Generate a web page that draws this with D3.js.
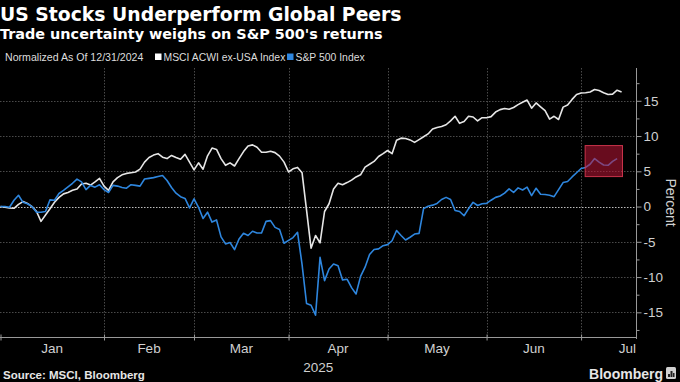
<!DOCTYPE html>
<html><head><meta charset="utf-8">
<script src="https://cdn.jsdelivr.net/npm/d3@7"></script>
<style>
html,body{margin:0;padding:0;background:#000;}
svg{display:block;}
</style></head><body>
<svg id="chart" width="680" height="382"></svg>
<script>
// ---- data (index = weekday since 12/31/2024) ----
const msciAcwiExUsa = [0,-0.1,-0.2,-0.25,0.3,0.7,0.45,0,-0.7,-2.1,-1.2,-0.3,0.6,1.3,1.8,2.0,2.3,2.5,3.2,3.3,
3.05,3.5,4.0,2.9,2.3,3.5,4.1,4.5,4.7,4.8,4.9,5.3,6.3,6.95,7.3,7.5,7.0,6.8,7.25,6.95,
6.7,7.4,6.3,5.2,6.2,5.3,7.2,8.3,8.1,6.8,5.85,6.2,5.75,6.8,7.8,8.6,8.75,8.4,7.7,7.7,
7.85,7.65,7.15,6.3,4.9,5.35,5.55,4.8,-0.5,-5.9,-4.1,-5.15,-0.7,0.4,2.5,3.3,3.1,3.4,3.75,4.2,
4.5,5.6,6.0,6.4,7.1,7.5,7.95,7.5,9.4,9.7,9.65,9.45,9.1,9.5,9.9,10.3,11.0,11.2,11.35,11.6,
12.15,12.8,11.8,12.05,12.8,12.7,12.15,12.6,12.6,12.75,13.4,13.75,13.9,13.8,14.05,14.45,14.8,15.1,13.95,14.7,
14.15,13.6,12.4,12.8,12.35,14.1,14.4,15.2,15.9,16.1,16.15,16.25,16.6,16.45,16.15,15.9,15.95,16.5,16.25];
const sp500 = [0,0,-0.1,0.9,1.6,0.6,0.4,0,-0.8,-0.8,-0.7,0.95,0.9,1.85,2.3,2.8,3.3,3.9,3.5,2.4,
3.0,2.75,3.1,2.4,2.0,3.0,2.9,2.7,2.6,3.1,3.0,2.9,3.9,4.0,4.1,4.25,4.4,3.7,2.7,1.9,
1.4,1.15,-0.2,1.1,-0.1,-1.7,-0.8,-2.2,-1.9,-4.3,-5.3,-5.1,-6.1,-4.6,-3.8,-4.1,-3.5,-3.75,-3.75,-2.1,
-2.0,-2.95,-3.25,-5.2,-4.8,-4.4,-3.65,-8.2,-13.75,-14.0,-15.4,-7.2,-10.5,-8.85,-8.15,-8.4,-10.4,-10.3,-11.5,-12.4,
-9.9,-8.6,-6.8,-6.1,-6.0,-5.55,-5.4,-4.85,-3.4,-4.1,-4.75,-4.35,-3.9,-3.8,-0.3,0.05,0.2,0.45,1.0,1.3,
1.0,-0.55,-0.7,-1.3,-0.3,0.6,0.15,0.4,0.45,0.9,1.3,1.5,1.9,2.5,2.0,2.65,2.35,2.75,1.55,2.6,
1.75,1.7,1.6,1.4,2.4,3.4,3.55,4.2,4.8,5.4,5.55,6.0,6.8,6.3,5.9,5.85,6.4,6.8];
const monthLabels = ["Jan","Feb","Mar","Apr","May","Jun","Jul"];
const monthLastIdx = [23,43,64,86,108,129];   // last weekday index of Jan..Jun
const yTicks = [-15,-10,-5,0,5,10,15];
const yMinorTicks = [-17.5,-12.5,-7.5,-2.5,2.5,7.5,12.5,17.5];
const highlightX = [129.9,138.2];
const highlightY = [4.25,8.65];
const xEnd = 141.2;
const yDomain = [-18.5,19.65];
const seriesNames = ["MSCI ACWI ex-USA Index","S&P 500 Index"];
const seriesColors = ["#e6e6e6","#2e86de"];

// ---- drawing ----
const svg = d3.select("#chart");
const W = 680, H = 382;
svg.append("rect").attr("width",W).attr("height",H).attr("fill","#000");

const plot = {left:0.5, right:636, top:68, bottom:337};
const x = d3.scaleLinear().domain([0,xEnd]).range([plot.left,plot.right]);
const y = d3.scaleLinear().domain(yDomain).range([plot.bottom,plot.top]);

const hf = "DejaVu Sans, Liberation Sans, Arial, sans-serif";
const lf = "Liberation Sans, Arial, sans-serif";
// title
svg.append("text").attr("x",0).attr("y",20.5).text("US Stocks Underperform Global Peers")
  .attr("fill","#fff").attr("font-family",hf).attr("font-weight","bold").attr("font-size",18.8);
svg.append("text").attr("x",0).attr("y",39).text("Trade uncertainty weighs on S&P 500's returns")
  .attr("fill","#fff").attr("font-family",hf).attr("font-weight","bold").attr("font-size",14.4);

// legend
svg.append("text").attr("x",5).attr("y",61).text("Normalized As Of 12/31/2024")
  .attr("fill","#ddd").attr("font-family",lf).attr("font-size",10.6);
const lg = [{x:155,name:seriesNames[0],c:"#fff"},{x:287,name:seriesNames[1],c:seriesColors[1]}];
lg.forEach(d=>{
  svg.append("rect").attr("x",d.x).attr("y",53.5).attr("width",6.5).attr("height",6.5).attr("fill",d.c);
  svg.append("text").attr("x",d.x+8.5).attr("y",61).text(d.name).attr("fill","#ddd").attr("font-family",lf).attr("font-size",10.4);
});

// gridlines
const g = svg.append("g");
g.selectAll(".hg").data(yTicks).join("line")
  .attr("x1",plot.left-0.5).attr("x2",plot.right).attr("y1",d=>Math.round(y(d))+0.5).attr("y2",d=>Math.round(y(d))+0.5)
  .attr("stroke",d=>d===0?"#bdbdbd":"#4a4a4a").attr("stroke-dasharray","1.5,1.5").attr("stroke-width",1);
g.selectAll(".vg").data(monthLastIdx).join("line")
  .attr("x1",d=>Math.round(x(d))+0.5).attr("x2",d=>Math.round(x(d))+0.5).attr("y1",plot.top).attr("y2",plot.bottom)
  .attr("stroke","#4a4a4a").attr("stroke-dasharray","1.5,1.5").attr("stroke-width",1);

// lines
const line = d3.line().x((d,i)=>x(i)).y(d=>y(d));
svg.append("path").datum(msciAcwiExUsa).attr("d",line).attr("fill","none").attr("stroke",seriesColors[0]).attr("stroke-width",1.6).attr("stroke-linejoin","round");
svg.append("path").datum(sp500).attr("d",line).attr("fill","none").attr("stroke",seriesColors[1]).attr("stroke-width",1.6).attr("stroke-linejoin","round");

// highlight box
svg.append("rect").attr("x",x(highlightX[0])).attr("y",y(highlightY[1]))
  .attr("width",x(highlightX[1])-x(highlightX[0])).attr("height",y(highlightY[0])-y(highlightY[1]))
  .attr("fill","rgba(190,22,55,0.55)").attr("stroke","rgba(215,55,80,0.9)").attr("stroke-width",1);

// y axis (right)
const tf = "Liberation Sans Narrow, Arial Narrow, Liberation Sans, sans-serif";
const yAxis = d3.axisRight(y).tickValues(yTicks).tickSize(5).tickPadding(2).tickFormat(d=>d<0?"-"+Math.abs(d):String(d));
const ya = svg.append("g").attr("transform",`translate(${plot.right+0.5},0)`).call(yAxis);
ya.select(".domain").attr("stroke","#999").attr("d",`M0,${plot.top}V${plot.bottom+2}`);
ya.selectAll(".tick line").attr("stroke","#999");
ya.selectAll(".tick text").attr("fill","#d0d0d0").attr("font-family",tf).attr("font-size",13.5);
const yMinor = d3.axisRight(y).tickValues(yMinorTicks).tickSize(3).tickFormat("");
const ym = svg.append("g").attr("transform",`translate(${plot.right+0.5},0)`).call(yMinor);
ym.select(".domain").remove();
ym.selectAll(".tick line").attr("stroke","#999");
svg.append("text").attr("transform",`translate(665.5,${y(0)-4}) rotate(90)`).attr("text-anchor","middle")
  .text("Percent").attr("fill","#d0d0d0").attr("font-family",lf).attr("font-size",14);

// x axis
const xa = svg.append("g").attr("transform",`translate(0,${plot.bottom+0.5})`)
  .call(d3.axisBottom(x).tickValues([0].concat(monthLastIdx)).tickSize(3).tickFormat(""));
xa.select(".domain").attr("stroke","#999").attr("d",`M0,0H${plot.right}`);
xa.selectAll(".tick line").attr("stroke","#999").attr("y1",-3).attr("y2",3);
const bounds = [0].concat(monthLastIdx);
const lbl = svg.append("g");
monthLabels.forEach((m,i)=>{
  const last = i===monthLabels.length-1;
  const cx = last ? plot.right : x((bounds[i]+bounds[i+1])/2);
  lbl.append("text").attr("x",cx).attr("y",353).attr("text-anchor",last?"end":"middle")
    .text(m).attr("fill","#d0d0d0").attr("font-family",tf).attr("font-size",13.5);
});
lbl.append("text").attr("x",(plot.left+plot.right)/2).attr("y",372).attr("text-anchor","middle")
  .text("2025").attr("fill","#d0d0d0").attr("font-family",tf).attr("font-size",13.5);

// footer
svg.append("text").attr("x",3).attr("y",379).text("Source: MSCI, Bloomberg")
  .attr("fill","#e6e6e6").attr("font-family",lf).attr("font-weight","bold").attr("font-size",11.5);
svg.append("text").attr("x",663).attr("y",379).attr("text-anchor","end").text("Bloomberg")
  .attr("fill","#e6e6e6").attr("font-family",lf).attr("font-weight","bold").attr("font-size",14);
const ic = svg.append("g").attr("transform","translate(666,367)");
ic.append("rect").attr("width",10).attr("height",12).attr("rx",1.5).attr("fill","#d0d0d0");
[[2,7,2,3],[4.5,4,2,6],[7,6,1.5,4]].forEach(b=>ic.append("rect").attr("x",b[0]).attr("y",b[1]).attr("width",b[2]).attr("height",b[3]).attr("fill","#222"));
</script>
</body></html>
